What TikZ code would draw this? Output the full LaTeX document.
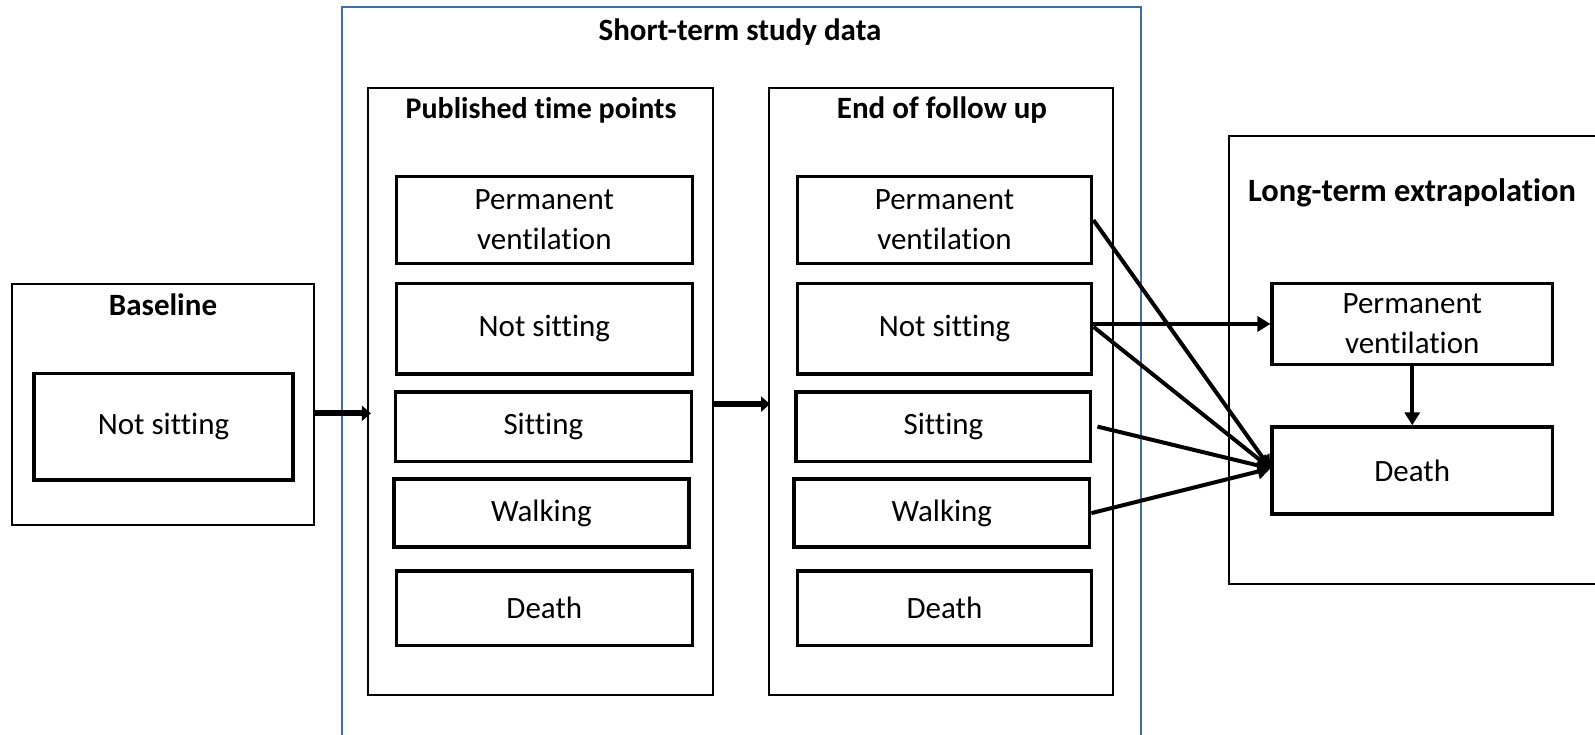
\documentclass[tikz,border=0pt]{standalone}
\usepackage{fontspec}
\setmainfont{Carlito}[Ligatures=CommonOff]
\usetikzlibrary{arrows.meta}
\definecolor{frameblue}{RGB}{65,112,160}
\begin{document}
\begin{tikzpicture}[x=1pt,y=-1pt,
  outerbox/.style={draw=black,line width=2pt,inner sep=0pt},
  statebox/.style={draw=black,line width=3.5pt,inner sep=0pt,align=center,
    font=\fontsize{31}{40}\selectfont},
  titletext/.style={inner sep=0pt,font=\fontsize{31}{36}\selectfont\bfseries},
  bigarrow/.style={line width=6pt,-{Triangle[length=9pt,width=15pt]}},
  thinarrow/.style={line width=4pt,-{Triangle[length=13pt,width=15pt]}}]
\useasboundingbox (0,0) rectangle (1595,735);
\fill[white] (0,0) rectangle (1595,735);
% Blue study frame
\node[draw=frameblue,line width=2pt,inner sep=0pt,minimum width=799pt,minimum height=760pt] (study) at (741.8,387.5) {};
\node[titletext] (tShort) at (740,31.9) {Short-term study data};
% Baseline
\node[outerbox,minimum width=302pt,minimum height=241.4pt] (base) at (162.75,404.3) {};
\node[titletext] (tBase) at (163,304.7) {Baseline};
\node[statebox,minimum width=259pt,minimum height=106.4pt] (bNS) at (163.5,426.8) {Not sitting};
% Published time points
\node[outerbox,minimum width=345.4pt,minimum height=607.1pt] (pub) at (540.6,391.65) {};
\node[titletext,font=\fontsize{30}{36}\selectfont\bfseries] (tPub) at (541,110.2) {Published time points};
\node[statebox,minimum width=295.9pt,minimum height=86.8pt] (pPV) at (544.35,220.1) {Permanent\\ventilation};
\node[statebox,minimum width=295.9pt,minimum height=90.5pt] (pNS) at (544.35,328.85) {Not sitting};
\node[statebox,minimum width=295.9pt,minimum height=69.4pt] (pS) at (543.35,426.6) {Sitting};
\node[statebox,minimum width=294.9pt,minimum height=68pt] (pW) at (541.35,513.1) {Walking};
\node[statebox,minimum width=295.9pt,minimum height=74.5pt] (pD) at (544.35,608.25) {Death};
% End of follow up
\node[outerbox,minimum width=344pt,minimum height=607.1pt] (fin) at (941,391.65) {};
\node[titletext] (tEnd) at (942,110.2) {End of follow up};
\node[statebox,minimum width=294.4pt,minimum height=86.8pt] (ePV) at (944.5,220.1) {Permanent\\ventilation};
\node[statebox,minimum width=294.4pt,minimum height=90.5pt] (eNS) at (944.5,328.85) {Not sitting};
\node[statebox,minimum width=294.5pt,minimum height=69.4pt] (eS) at (943.45,426.6) {Sitting};
\node[statebox,minimum width=295.6pt,minimum height=68pt] (eW) at (941.8,513.1) {Walking};
\node[statebox,minimum width=294.4pt,minimum height=74.5pt] (eD) at (944.5,608.25) {Death};
% Long-term extrapolation
\node[outerbox,minimum width=380pt,minimum height=447.7pt] (lt) at (1419.1,359.85) {};
\node[titletext,font=\fontsize{32.5}{36}\selectfont\bfseries] (tLong) at (1412,193.1) {Long-term extrapolation};
\node[statebox,minimum width=280.1pt,minimum height=80.7pt] (lPV) at (1412.25,323.95) {Permanent\\ventilation};
\node[statebox,minimum width=280.1pt,minimum height=86.7pt] (lD) at (1412.25,470.45) {Death};
% Connectors
\draw[bigarrow] (base.east |- 0,413.3) -- ([xshift=4pt]pub.west |- 0,413.3);
\draw[bigarrow] (pub.east |- 0,404.1) -- ([xshift=2pt]fin.west |- 0,404.1);
\draw[thinarrow] (eNS.east |- lPV.west) -- (lPV.west);
\draw[thinarrow] (ePV.east) -- ([yshift=2pt]lD.west);
\draw[thinarrow] ([yshift=2pt]eNS.east) -- ([yshift=2pt]lD.west);
\draw[thinarrow] ([xshift=5pt]eS.east) -- ([yshift=2pt]lD.west);
\draw[thinarrow] (eW.east) -- ([yshift=2pt]lD.west);
\draw[thinarrow] (lPV.south) -- (lD.north);
\end{tikzpicture}
\end{document}
